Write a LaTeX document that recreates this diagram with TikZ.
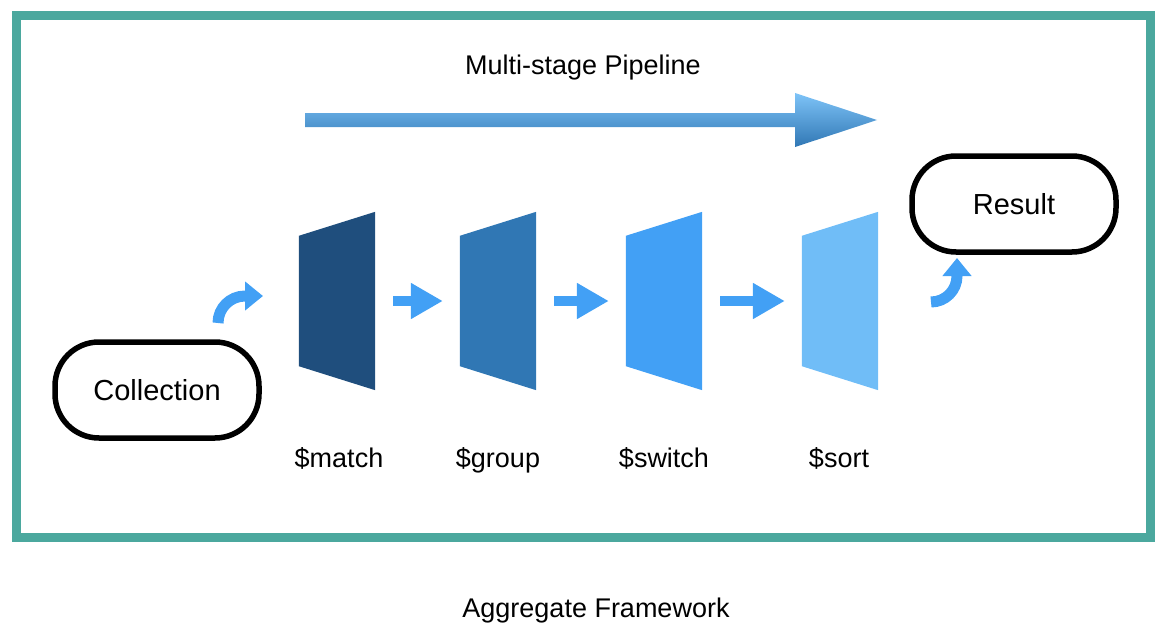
\documentclass[tikz,border=0pt]{standalone}
\usepackage{fontspec}
\setmainfont{Liberation Sans}
\usetikzlibrary{arrows.meta, positioning}
\definecolor{frameteal}{HTML}{4BA89E}
\definecolor{stageA}{HTML}{1F4E7D}
\definecolor{stageB}{HTML}{3077B4}
\definecolor{stageC}{HTML}{42A0F5}
\definecolor{stageD}{HTML}{70BDF7}
\definecolor{flowblue}{HTML}{42A0F5}

\begin{document}
\begin{tikzpicture}[x=1pt, y=-1pt,
        stagelabel/.style={font=\fontsize{27}{31}\selectfont, inner sep=0pt, anchor=base},
        pill/.style={draw=black, line width=5.5pt, rounded corners=44pt, minimum width=204pt, minimum height=96pt,
            font=\fontsize{29}{34}\selectfont},
        stagebox/.style={minimum width=76pt, minimum height=178pt, inner sep=0pt},
        flow/.style={draw=flowblue, line width=10pt, -{Triangle[length=32pt, width=34pt]}, shorten <=18pt, shorten >=17pt},
        curvearrow/.style={draw=flowblue, line width=11pt, -{Triangle[length=18pt, width=28pt]}}
    ]
        \useasboundingbox (0,0) rectangle (1168,634);

        % Frame
        \draw [frameteal, line width=9pt] (16,16) rectangle (1150,537);

        % Nodes
        \node [pill] (collection) at (157,390) {Collection};
        \node [pill] (result) at (1014,204) {Result};

        \node [stagebox] (match) at (337,301) {};
        \node [stagebox] (group) at (498,301) {};
        \node [stagebox] (switch) at (664,301) {};
        \node [stagebox] (sort) at (840,301) {};

        \fill [stageA] (match.north east) -- (match.south east) -- ([yshift=24pt]match.south west) -- ([yshift=-24pt]match.north west) -- cycle;
        \fill [stageB] (group.north east) -- (group.south east) -- ([yshift=24pt]group.south west) -- ([yshift=-24pt]group.north west) -- cycle;
        \fill [stageC] (switch.north east) -- (switch.south east) -- ([yshift=24pt]switch.south west) -- ([yshift=-24pt]switch.north west) -- cycle;
        \fill [stageD] (sort.north east) -- (sort.south east) -- ([yshift=24pt]sort.south west) -- ([yshift=-24pt]sort.north west) -- cycle;

        % Labels
        \node [stagelabel] (lmatch) at (339,467) {\$match};
        \node [stagelabel] (lgroup) at (498,467) {\$group};
        \node [stagelabel] (lswitch) at (664,467) {\$switch};
        \node [stagelabel] (lsort) at (839,467) {\$sort};

        \node [stagelabel] (title) at (583,75) {Multi-stage Pipeline};
        \node [stagelabel] (framework) at (596,617) {Aggregate Framework};

        % Pipeline arrow
        \coordinate (pstart) at (305,120);
        \coordinate (pend) at (877,120);
        \shade [top color=stageD!90!white, bottom color=stageB]
            (305,113) -- (795,113) -- (795,93) -- (pend) -- (795,147) -- (795,127) -- (305,127) -- cycle;

        % Arrows
        \draw [flow] (match.east) -- (group.west);
        \draw [flow] (group.east) -- (switch.west);
        \draw [flow] (switch.east) -- (sort.west);

        \coordinate (cstart) at (218,323);
        \coordinate (ctip) at (263,296);
        \draw [curvearrow] (cstart) arc[start angle=180, end angle=270, radius=27] -- (ctip);
        \coordinate (rstart) at (931,302);
        \coordinate (rtip) at (957,258);
        \draw [curvearrow] (rstart) arc[start angle=90, end angle=0, radius=26] -- (rtip);
    \end{tikzpicture}
\end{document}
